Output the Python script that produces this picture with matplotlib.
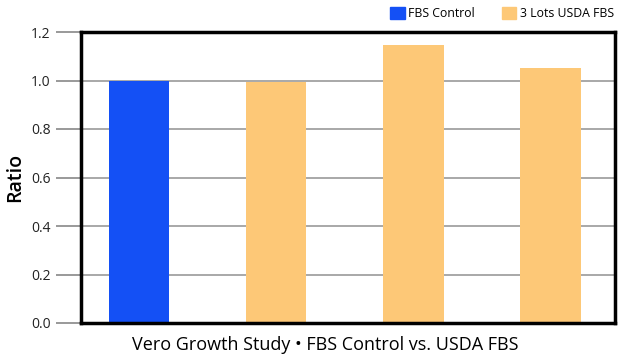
import matplotlib.pyplot as plt
from matplotlib.patches import Rectangle

# bar heights (ratio vs. control)
groups = ["FBS Control", "Lot 1", "Lot 2", "Lot 3"]
ratios = [1.0, 0.995, 1.145, 1.05]
kinds = ["control", "usda", "usda", "usda"]
yticks = [0.0, 0.2, 0.4, 0.6, 0.8, 1.0, 1.2]
legend_labels = ["FBS Control", "3 Lots USDA FBS"]

BLUE = "#1450f5"
ORANGE = "#fdc877"
colors = {"control": BLUE, "usda": ORANGE}

plt.rcParams["font.family"] = ["Open Sans", "DejaVu Sans"]

fig = plt.figure(figsize=(6.21, 3.6), dpi=100)
ax = fig.add_axes([81 / 621, 1 - 323 / 360, (615 - 81) / 621, (323 - 32) / 360])

x = list(range(len(groups)))
ax.bar(x, ratios, width=0.44, color=[colors[k] for k in kinds], zorder=3)

ax.set_xlim(-0.423, 3.47)
ax.set_ylim(0, 1.2)
ax.set_yticks(yticks)
ax.set_yticklabels([f"{v:.1f}" for v in yticks], fontsize=10, color="#222222")
ax.set_xticks([])
ax.tick_params(axis="y", length=18, width=1.2, color="#888888", pad=4)

for v in yticks[1:-1]:
    ax.axhline(v, color="#999999", lw=1.2, zorder=1)

for s in ax.spines.values():
    s.set_linewidth(2.5)
    s.set_color("black")
    s.set_zorder(5)

ax.set_ylabel("Ratio", fontsize=14, fontweight="semibold", labelpad=4)
ax.set_xlabel("Vero Growth Study \u2022 FBS Control vs. USDA FBS", fontsize=13, labelpad=8)
ax.xaxis.set_label_coords(0.457, -0.045, transform=ax.transAxes)
ax.xaxis.label.set_va("top")

# legend above the plot, right aligned
handles = [Rectangle((0, 0), 1, 1, color=BLUE), Rectangle((0, 0), 1, 1, color=ORANGE)]
fig.legend(handles, legend_labels, loc="upper right", bbox_to_anchor=(1.0, 1.0),
           ncol=2, frameon=False, fontsize=8.8, handlelength=1.2, handleheight=1.2,
           handletextpad=0.3, columnspacing=2.2, borderaxespad=0.15,
           prop={"size": 8.8, "weight": "medium"})

fig.savefig("out.png", dpi=100)
